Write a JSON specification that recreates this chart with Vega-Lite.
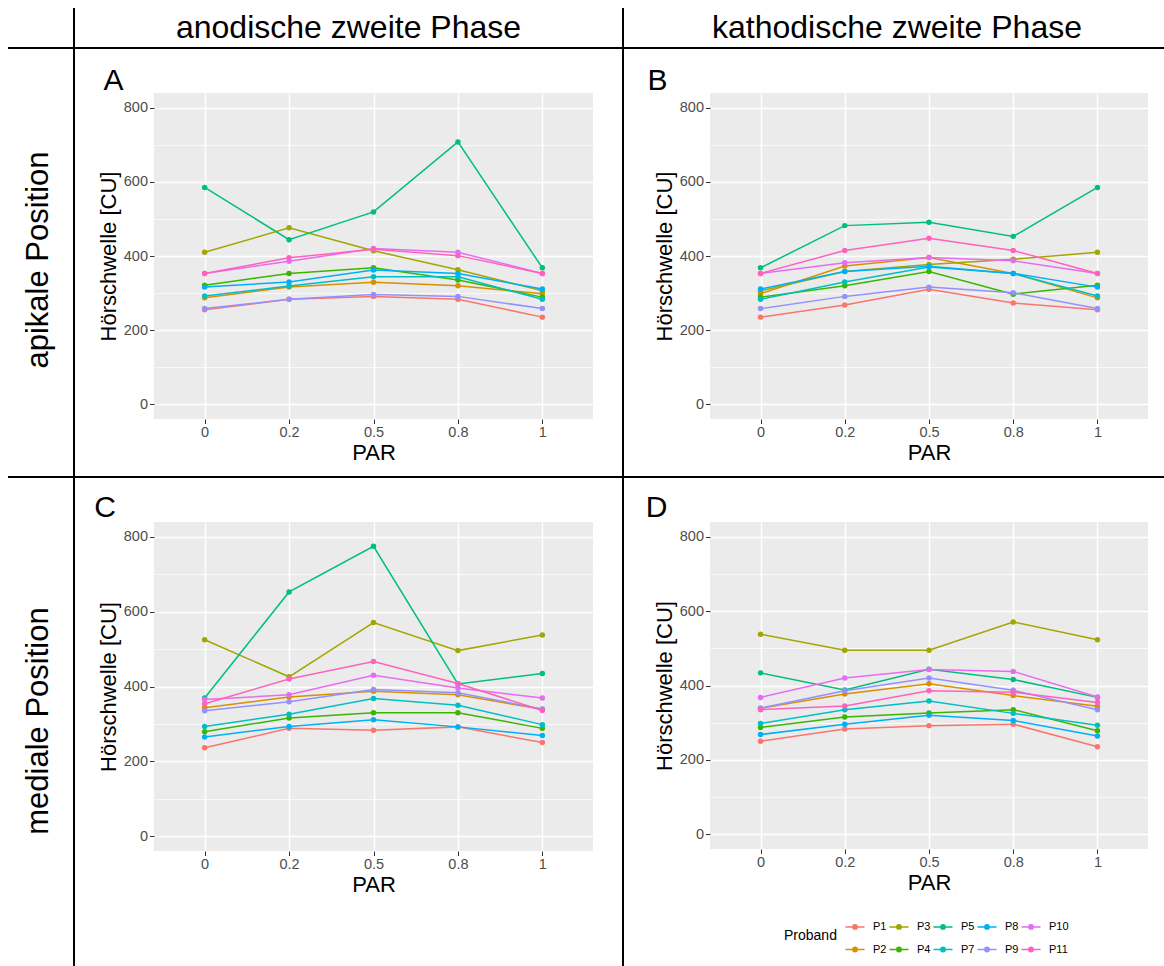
{
"$schema": "https://vega.github.io/schema/vega-lite/v6.json",
"padding": {"left": 8, "top": 8, "right": 0, "bottom": 0},
"autosize": {"type": "pad"},
"config": {
  "font": "Liberation Sans",
  "view": {"stroke": null},
  "axis": {"domain": false, "gridColor": "#FFFFFF", "gridWidth": 1.4, "tickColor": "#333333", "tickSize": 4.5, "tickWidth": 1, "labelColor": "#4D4D4D", "labelFontSize": 14.5, "labelPadding": 2, "titleFontSize": 22, "titleFontWeight": "normal", "titleColor": "#000000", "titlePadding": 3, "labelFont": "Liberation Sans", "titleFont": "Liberation Sans"}
},
"datasets": {"thr": [
{"panel":"A","Proband":"P1","PAR":"0","value":255},{"panel":"A","Proband":"P1","PAR":"0.2","value":283},{"panel":"A","Proband":"P1","PAR":"0.5","value":291},{"panel":"A","Proband":"P1","PAR":"0.8","value":283},{"panel":"A","Proband":"P1","PAR":"1","value":235},
{"panel":"A","Proband":"P2","PAR":"0","value":287},{"panel":"A","Proband":"P2","PAR":"0.2","value":316},{"panel":"A","Proband":"P2","PAR":"0.5","value":329},{"panel":"A","Proband":"P2","PAR":"0.8","value":320},{"panel":"A","Proband":"P2","PAR":"1","value":298},
{"panel":"A","Proband":"P3","PAR":"0","value":410},{"panel":"A","Proband":"P3","PAR":"0.2","value":476},{"panel":"A","Proband":"P3","PAR":"0.5","value":414},{"panel":"A","Proband":"P3","PAR":"0.8","value":363},{"panel":"A","Proband":"P3","PAR":"1","value":306},
{"panel":"A","Proband":"P4","PAR":"0","value":321},{"panel":"A","Proband":"P4","PAR":"0.2","value":353},{"panel":"A","Proband":"P4","PAR":"0.5","value":368},{"panel":"A","Proband":"P4","PAR":"0.8","value":335},{"panel":"A","Proband":"P4","PAR":"1","value":289},
{"panel":"A","Proband":"P5","PAR":"0","value":585},{"panel":"A","Proband":"P5","PAR":"0.2","value":444},{"panel":"A","Proband":"P5","PAR":"0.5","value":519},{"panel":"A","Proband":"P5","PAR":"0.8","value":708},{"panel":"A","Proband":"P5","PAR":"1","value":368},
{"panel":"A","Proband":"P7","PAR":"0","value":292},{"panel":"A","Proband":"P7","PAR":"0.2","value":319},{"panel":"A","Proband":"P7","PAR":"0.5","value":344},{"panel":"A","Proband":"P7","PAR":"0.8","value":344},{"panel":"A","Proband":"P7","PAR":"1","value":283},
{"panel":"A","Proband":"P8","PAR":"0","value":316},{"panel":"A","Proband":"P8","PAR":"0.2","value":330},{"panel":"A","Proband":"P8","PAR":"0.5","value":362},{"panel":"A","Proband":"P8","PAR":"0.8","value":353},{"panel":"A","Proband":"P8","PAR":"1","value":311},
{"panel":"A","Proband":"P9","PAR":"0","value":258},{"panel":"A","Proband":"P9","PAR":"0.2","value":283},{"panel":"A","Proband":"P9","PAR":"0.5","value":296},{"panel":"A","Proband":"P9","PAR":"0.8","value":291},{"panel":"A","Proband":"P9","PAR":"1","value":258},
{"panel":"A","Proband":"P10","PAR":"0","value":353},{"panel":"A","Proband":"P10","PAR":"0.2","value":386},{"panel":"A","Proband":"P10","PAR":"0.5","value":420},{"panel":"A","Proband":"P10","PAR":"0.8","value":410},{"panel":"A","Proband":"P10","PAR":"1","value":353},
{"panel":"A","Proband":"P11","PAR":"0","value":353},{"panel":"A","Proband":"P11","PAR":"0.2","value":395},{"panel":"A","Proband":"P11","PAR":"0.5","value":418},{"panel":"A","Proband":"P11","PAR":"0.8","value":401},{"panel":"A","Proband":"P11","PAR":"1","value":353},
{"panel":"B","Proband":"P1","PAR":"0","value":235},{"panel":"B","Proband":"P1","PAR":"0.2","value":268},{"panel":"B","Proband":"P1","PAR":"0.5","value":310},{"panel":"B","Proband":"P1","PAR":"0.8","value":273},{"panel":"B","Proband":"P1","PAR":"1","value":255},
{"panel":"B","Proband":"P2","PAR":"0","value":298},{"panel":"B","Proband":"P2","PAR":"0.2","value":373},{"panel":"B","Proband":"P2","PAR":"0.5","value":396},{"panel":"B","Proband":"P2","PAR":"0.8","value":353},{"panel":"B","Proband":"P2","PAR":"1","value":287},
{"panel":"B","Proband":"P3","PAR":"0","value":306},{"panel":"B","Proband":"P3","PAR":"0.2","value":358},{"panel":"B","Proband":"P3","PAR":"0.5","value":377},{"panel":"B","Proband":"P3","PAR":"0.8","value":391},{"panel":"B","Proband":"P3","PAR":"1","value":410},
{"panel":"B","Proband":"P4","PAR":"0","value":289},{"panel":"B","Proband":"P4","PAR":"0.2","value":320},{"panel":"B","Proband":"P4","PAR":"0.5","value":358},{"panel":"B","Proband":"P4","PAR":"0.8","value":297},{"panel":"B","Proband":"P4","PAR":"1","value":321},
{"panel":"B","Proband":"P5","PAR":"0","value":368},{"panel":"B","Proband":"P5","PAR":"0.2","value":482},{"panel":"B","Proband":"P5","PAR":"0.5","value":491},{"panel":"B","Proband":"P5","PAR":"0.8","value":453},{"panel":"B","Proband":"P5","PAR":"1","value":585},
{"panel":"B","Proband":"P7","PAR":"0","value":283},{"panel":"B","Proband":"P7","PAR":"0.2","value":330},{"panel":"B","Proband":"P7","PAR":"0.5","value":370},{"panel":"B","Proband":"P7","PAR":"0.8","value":353},{"panel":"B","Proband":"P7","PAR":"1","value":292},
{"panel":"B","Proband":"P8","PAR":"0","value":311},{"panel":"B","Proband":"P8","PAR":"0.2","value":358},{"panel":"B","Proband":"P8","PAR":"0.5","value":372},{"panel":"B","Proband":"P8","PAR":"0.8","value":353},{"panel":"B","Proband":"P8","PAR":"1","value":316},
{"panel":"B","Proband":"P9","PAR":"0","value":258},{"panel":"B","Proband":"P9","PAR":"0.2","value":291},{"panel":"B","Proband":"P9","PAR":"0.5","value":316},{"panel":"B","Proband":"P9","PAR":"0.8","value":301},{"panel":"B","Proband":"P9","PAR":"1","value":258},
{"panel":"B","Proband":"P10","PAR":"0","value":353},{"panel":"B","Proband":"P10","PAR":"0.2","value":382},{"panel":"B","Proband":"P10","PAR":"0.5","value":396},{"panel":"B","Proband":"P10","PAR":"0.8","value":387},{"panel":"B","Proband":"P10","PAR":"1","value":353},
{"panel":"B","Proband":"P11","PAR":"0","value":353},{"panel":"B","Proband":"P11","PAR":"0.2","value":415},{"panel":"B","Proband":"P11","PAR":"0.5","value":448},{"panel":"B","Proband":"P11","PAR":"0.8","value":415},{"panel":"B","Proband":"P11","PAR":"1","value":353},
{"panel":"C","Proband":"P1","PAR":"0","value":236},{"panel":"C","Proband":"P1","PAR":"0.2","value":288},{"panel":"C","Proband":"P1","PAR":"0.5","value":283},{"panel":"C","Proband":"P1","PAR":"0.8","value":292},{"panel":"C","Proband":"P1","PAR":"1","value":250},
{"panel":"C","Proband":"P2","PAR":"0","value":343},{"panel":"C","Proband":"P2","PAR":"0.2","value":372},{"panel":"C","Proband":"P2","PAR":"0.5","value":387},{"panel":"C","Proband":"P2","PAR":"0.8","value":378},{"panel":"C","Proband":"P2","PAR":"1","value":339},
{"panel":"C","Proband":"P3","PAR":"0","value":525},{"panel":"C","Proband":"P3","PAR":"0.2","value":426},{"panel":"C","Proband":"P3","PAR":"0.5","value":571},{"panel":"C","Proband":"P3","PAR":"0.8","value":496},{"panel":"C","Proband":"P3","PAR":"1","value":538},
{"panel":"C","Proband":"P4","PAR":"0","value":279},{"panel":"C","Proband":"P4","PAR":"0.2","value":316},{"panel":"C","Proband":"P4","PAR":"0.5","value":330},{"panel":"C","Proband":"P4","PAR":"0.8","value":330},{"panel":"C","Proband":"P4","PAR":"1","value":288},
{"panel":"C","Proband":"P5","PAR":"0","value":369},{"panel":"C","Proband":"P5","PAR":"0.2","value":653},{"panel":"C","Proband":"P5","PAR":"0.5","value":775},{"panel":"C","Proband":"P5","PAR":"0.8","value":407},{"panel":"C","Proband":"P5","PAR":"1","value":435},
{"panel":"C","Proband":"P7","PAR":"0","value":293},{"panel":"C","Proband":"P7","PAR":"0.2","value":326},{"panel":"C","Proband":"P7","PAR":"0.5","value":368},{"panel":"C","Proband":"P7","PAR":"0.8","value":350},{"panel":"C","Proband":"P7","PAR":"1","value":298},
{"panel":"C","Proband":"P8","PAR":"0","value":265},{"panel":"C","Proband":"P8","PAR":"0.2","value":293},{"panel":"C","Proband":"P8","PAR":"0.5","value":311},{"panel":"C","Proband":"P8","PAR":"0.8","value":292},{"panel":"C","Proband":"P8","PAR":"1","value":269},
{"panel":"C","Proband":"P9","PAR":"0","value":335},{"panel":"C","Proband":"P9","PAR":"0.2","value":359},{"panel":"C","Proband":"P9","PAR":"0.5","value":392},{"panel":"C","Proband":"P9","PAR":"0.8","value":383},{"panel":"C","Proband":"P9","PAR":"1","value":340},
{"panel":"C","Proband":"P10","PAR":"0","value":365},{"panel":"C","Proband":"P10","PAR":"0.2","value":378},{"panel":"C","Proband":"P10","PAR":"0.5","value":430},{"panel":"C","Proband":"P10","PAR":"0.8","value":396},{"panel":"C","Proband":"P10","PAR":"1","value":369},
{"panel":"C","Proband":"P11","PAR":"0","value":354},{"panel":"C","Proband":"P11","PAR":"0.2","value":420},{"panel":"C","Proband":"P11","PAR":"0.5","value":467},{"panel":"C","Proband":"P11","PAR":"0.8","value":408},{"panel":"C","Proband":"P11","PAR":"1","value":336},
{"panel":"D","Proband":"P1","PAR":"0","value":250},{"panel":"D","Proband":"P1","PAR":"0.2","value":283},{"panel":"D","Proband":"P1","PAR":"0.5","value":292},{"panel":"D","Proband":"P1","PAR":"0.8","value":296},{"panel":"D","Proband":"P1","PAR":"1","value":235},
{"panel":"D","Proband":"P2","PAR":"0","value":339},{"panel":"D","Proband":"P2","PAR":"0.2","value":377},{"panel":"D","Proband":"P2","PAR":"0.5","value":405},{"panel":"D","Proband":"P2","PAR":"0.8","value":373},{"panel":"D","Proband":"P2","PAR":"1","value":344},
{"panel":"D","Proband":"P3","PAR":"0","value":538},{"panel":"D","Proband":"P3","PAR":"0.2","value":495},{"panel":"D","Proband":"P3","PAR":"0.5","value":495},{"panel":"D","Proband":"P3","PAR":"0.8","value":571},{"panel":"D","Proband":"P3","PAR":"1","value":523},
{"panel":"D","Proband":"P4","PAR":"0","value":287},{"panel":"D","Proband":"P4","PAR":"0.2","value":315},{"panel":"D","Proband":"P4","PAR":"0.5","value":326},{"panel":"D","Proband":"P4","PAR":"0.8","value":335},{"panel":"D","Proband":"P4","PAR":"1","value":278},
{"panel":"D","Proband":"P5","PAR":"0","value":434},{"panel":"D","Proband":"P5","PAR":"0.2","value":388},{"panel":"D","Proband":"P5","PAR":"0.5","value":444},{"panel":"D","Proband":"P5","PAR":"0.8","value":416},{"panel":"D","Proband":"P5","PAR":"1","value":368},
{"panel":"D","Proband":"P7","PAR":"0","value":298},{"panel":"D","Proband":"P7","PAR":"0.2","value":335},{"panel":"D","Proband":"P7","PAR":"0.5","value":358},{"panel":"D","Proband":"P7","PAR":"0.8","value":325},{"panel":"D","Proband":"P7","PAR":"1","value":293},
{"panel":"D","Proband":"P8","PAR":"0","value":268},{"panel":"D","Proband":"P8","PAR":"0.2","value":296},{"panel":"D","Proband":"P8","PAR":"0.5","value":320},{"panel":"D","Proband":"P8","PAR":"0.8","value":306},{"panel":"D","Proband":"P8","PAR":"1","value":264},
{"panel":"D","Proband":"P9","PAR":"0","value":339},{"panel":"D","Proband":"P9","PAR":"0.2","value":386},{"panel":"D","Proband":"P9","PAR":"0.5","value":420},{"panel":"D","Proband":"P9","PAR":"0.8","value":387},{"panel":"D","Proband":"P9","PAR":"1","value":335},
{"panel":"D","Proband":"P10","PAR":"0","value":368},{"panel":"D","Proband":"P10","PAR":"0.2","value":420},{"panel":"D","Proband":"P10","PAR":"0.5","value":443},{"panel":"D","Proband":"P10","PAR":"0.8","value":438},{"panel":"D","Proband":"P10","PAR":"1","value":369},
{"panel":"D","Proband":"P11","PAR":"0","value":335},{"panel":"D","Proband":"P11","PAR":"0.2","value":345},{"panel":"D","Proband":"P11","PAR":"0.5","value":386},{"panel":"D","Proband":"P11","PAR":"0.8","value":382},{"panel":"D","Proband":"P11","PAR":"1","value":354}
]},
"columns": 9,
"spacing": 0,
"bounds": "flush",
"align": "each",
"concat": [
{"width": 65, "height": 39, "data": {"values": []}, "mark": "point"},
{"width": 2, "height": 39, "data": {"values": []}, "mark": "point", "view": {"fill": "#000000"}},
{"width": 79, "height": 39, "data": {"values": []}, "mark": "point"},
{"width": 439, "height": 39, "data": {"values": [{"t": "anodische zweite Phase"}]}, "mark": {"type": "text", "fontSize": 32, "dx": -25, "color": "#000000"}, "encoding": {"text": {"field": "t", "type": "nominal"}}},
{"width": 29, "height": 39, "data": {"values": []}, "mark": "point"},
{"width": 2, "height": 39, "data": {"values": []}, "mark": "point", "view": {"fill": "#000000"}},
{"width": 86, "height": 39, "data": {"values": []}, "mark": "point"},
{"width": 438, "height": 39, "data": {"values": [{"t": "kathodische zweite Phase"}]}, "mark": {"type": "text", "fontSize": 32, "dx": -32, "color": "#000000"}, "encoding": {"text": {"field": "t", "type": "nominal"}}},
{"width": 16, "height": 39, "data": {"values": []}, "mark": "point"},

{"width": 65, "height": 2, "data": {"values": []}, "mark": "point", "view": {"fill": "#000000"}},
{"width": 2, "height": 2, "data": {"values": []}, "mark": "point", "view": {"fill": "#000000"}},
{"width": 79, "height": 2, "data": {"values": []}, "mark": "point", "view": {"fill": "#000000"}},
{"width": 439, "height": 2, "data": {"values": []}, "mark": "point", "view": {"fill": "#000000"}},
{"width": 29, "height": 2, "data": {"values": []}, "mark": "point", "view": {"fill": "#000000"}},
{"width": 2, "height": 2, "data": {"values": []}, "mark": "point", "view": {"fill": "#000000"}},
{"width": 86, "height": 2, "data": {"values": []}, "mark": "point", "view": {"fill": "#000000"}},
{"width": 438, "height": 2, "data": {"values": []}, "mark": "point", "view": {"fill": "#000000"}},
{"width": 16, "height": 2, "data": {"values": []}, "mark": "point", "view": {"fill": "#000000"}},

{"width": 65, "height": 44, "data": {"values": []}, "mark": "point"},
{"width": 2, "height": 44, "data": {"values": []}, "mark": "point", "view": {"fill": "#000000"}},
{"width": 79, "height": 44, "data": {"values": [{"t": "A"}]}, "mark": {"type": "text", "fontSize": 30, "baseline": "alphabetic", "dx": -1, "dy": 19, "color": "#000000"}, "encoding": {"text": {"field": "t", "type": "nominal"}}},
{"width": 439, "height": 44, "data": {"values": []}, "mark": "point"},
{"width": 29, "height": 44, "data": {"values": []}, "mark": "point"},
{"width": 2, "height": 44, "data": {"values": []}, "mark": "point", "view": {"fill": "#000000"}},
{"width": 86, "height": 44, "data": {"values": [{"t": "B"}]}, "mark": {"type": "text", "fontSize": 30, "baseline": "alphabetic", "dx": -9.5, "dy": 19, "color": "#000000"}, "encoding": {"text": {"field": "t", "type": "nominal"}}},
{"width": 438, "height": 44, "data": {"values": []}, "mark": "point"},
{"width": 16, "height": 44, "data": {"values": []}, "mark": "point"},

{"width": 65, "height": 326, "data": {"values": [{"t": "apikale Position"}]}, "mark": {"type": "text", "fontSize": 31, "angle": 270, "dx": -4, "dy": -2, "color": "#000000"}, "encoding": {"text": {"field": "t", "type": "nominal"}}},
{"width": 2, "height": 326, "data": {"values": []}, "mark": "point", "view": {"fill": "#000000"}},
{"width": 79, "height": 326, "data": {"values": []}, "mark": "point"},
{"width": 439, "height": 326, "data": {"name": "thr"}, "transform": [{"filter": "datum.panel === 'A'"}],
 "view": {"fill": "#EBEBEB", "stroke": null},
 "encoding": {
  "x": {"field": "PAR", "type": "ordinal", "sort": ["0","0.2","0.5","0.8","1"], "scale": {"type": "point", "padding": 0.6}, "axis": {"title": "PAR", "labelAngle": 0, "grid": true}},
  "color": {"field": "Proband", "type": "nominal", "scale": {"domain": ["P1","P3","P5","P8","P10","P2","P4","P7","P9","P11"], "range": ["#F8766D","#A3A500","#00BF7D","#00B0F6","#E76BF3","#D89000","#39B600","#00BFC4","#9590FF","#FF62BC"]},
   "legend": {"title": "Proband", "orient": "none", "legendX": 776, "legendY": 907.5, "direction": "horizontal", "columns": 5, "titleOrient": "left", "titleAnchor": "middle", "titleBaseline": "middle", "titleFontSize": 14, "titleFontWeight": "normal", "titleColor": "#000000", "titlePadding": 7, "labelFontSize": 11, "labelColor": "#000000", "labelOffset": 7, "columnPadding": -1, "rowPadding": 6, "symbolType": "M-0.95,0H0.95M-0.22,0A0.22,0.22 0 1,1 0.22,0A0.22,0.22 0 1,1 -0.22,0Z", "symbolSize": 400, "symbolStrokeWidth": 1.5, "padding": 0}}
 },
 "layer": [
  {"mark": {"type": "point", "opacity": 0}, "encoding": {"y": {"field": "value", "type": "quantitative", "scale": {"domain": [-40, 840], "nice": false, "zero": false}, "axis": {"orient": "right", "values": [100,300,500,700], "grid": true, "gridWidth": 0.7, "labels": false, "ticks": false, "domain": false, "title": null}}}},
  {"mark": {"type": "line", "strokeWidth": 1.5}, "encoding": {"y": {"field": "value", "type": "quantitative", "axis": {"orient": "left", "values": [0,200,400,600,800], "title": "Hörschwelle [CU]", "grid": true}}}},
  {"mark": {"type": "point", "filled": true, "size": 30, "opacity": 1}, "encoding": {"y": {"field": "value", "type": "quantitative", "axis": null}}}
 ],
 "resolve": {"axis": {"y": "independent"}}
},
{"width": 29, "height": 326, "data": {"values": []}, "mark": "point"},
{"width": 2, "height": 326, "data": {"values": []}, "mark": "point", "view": {"fill": "#000000"}},
{"width": 86, "height": 326, "data": {"values": []}, "mark": "point"},
{"width": 438, "height": 326, "data": {"name": "thr"}, "transform": [{"filter": "datum.panel === 'B'"}],
 "view": {"fill": "#EBEBEB", "stroke": null},
 "encoding": {
  "x": {"field": "PAR", "type": "ordinal", "sort": ["0","0.2","0.5","0.8","1"], "scale": {"type": "point", "padding": 0.6}, "axis": {"title": "PAR", "labelAngle": 0, "grid": true}},
  "color": {"field": "Proband", "type": "nominal", "scale": {"domain": ["P1","P3","P5","P8","P10","P2","P4","P7","P9","P11"], "range": ["#F8766D","#A3A500","#00BF7D","#00B0F6","#E76BF3","#D89000","#39B600","#00BFC4","#9590FF","#FF62BC"]},
   "legend": {"title": "Proband", "orient": "none", "legendX": 776, "legendY": 907.5, "direction": "horizontal", "columns": 5, "titleOrient": "left", "titleAnchor": "middle", "titleBaseline": "middle", "titleFontSize": 14, "titleFontWeight": "normal", "titleColor": "#000000", "titlePadding": 7, "labelFontSize": 11, "labelColor": "#000000", "labelOffset": 7, "columnPadding": -1, "rowPadding": 6, "symbolType": "M-0.95,0H0.95M-0.22,0A0.22,0.22 0 1,1 0.22,0A0.22,0.22 0 1,1 -0.22,0Z", "symbolSize": 400, "symbolStrokeWidth": 1.5, "padding": 0}}
 },
 "layer": [
  {"mark": {"type": "point", "opacity": 0}, "encoding": {"y": {"field": "value", "type": "quantitative", "scale": {"domain": [-40, 840], "nice": false, "zero": false}, "axis": {"orient": "right", "values": [100,300,500,700], "grid": true, "gridWidth": 0.7, "labels": false, "ticks": false, "domain": false, "title": null}}}},
  {"mark": {"type": "line", "strokeWidth": 1.5}, "encoding": {"y": {"field": "value", "type": "quantitative", "axis": {"orient": "left", "values": [0,200,400,600,800], "title": "Hörschwelle [CU]", "grid": true}}}},
  {"mark": {"type": "point", "filled": true, "size": 30, "opacity": 1}, "encoding": {"y": {"field": "value", "type": "quantitative", "axis": null}}}
 ],
 "resolve": {"axis": {"y": "independent"}}
},
{"width": 16, "height": 326, "data": {"values": []}, "mark": "point"},

{"width": 65, "height": 57, "data": {"values": []}, "mark": "point"},
{"width": 2, "height": 57, "data": {"values": []}, "mark": "point", "view": {"fill": "#000000"}},
{"width": 79, "height": 57, "data": {"values": []}, "mark": "point"},
{"width": 439, "height": 57, "data": {"values": []}, "mark": "point"},
{"width": 29, "height": 57, "data": {"values": []}, "mark": "point"},
{"width": 2, "height": 57, "data": {"values": []}, "mark": "point", "view": {"fill": "#000000"}},
{"width": 86, "height": 57, "data": {"values": []}, "mark": "point"},
{"width": 438, "height": 57, "data": {"values": []}, "mark": "point"},
{"width": 16, "height": 57, "data": {"values": []}, "mark": "point"},

{"width": 65, "height": 2, "data": {"values": []}, "mark": "point", "view": {"fill": "#000000"}},
{"width": 2, "height": 2, "data": {"values": []}, "mark": "point", "view": {"fill": "#000000"}},
{"width": 79, "height": 2, "data": {"values": []}, "mark": "point", "view": {"fill": "#000000"}},
{"width": 439, "height": 2, "data": {"values": []}, "mark": "point", "view": {"fill": "#000000"}},
{"width": 29, "height": 2, "data": {"values": []}, "mark": "point", "view": {"fill": "#000000"}},
{"width": 2, "height": 2, "data": {"values": []}, "mark": "point", "view": {"fill": "#000000"}},
{"width": 86, "height": 2, "data": {"values": []}, "mark": "point", "view": {"fill": "#000000"}},
{"width": 438, "height": 2, "data": {"values": []}, "mark": "point", "view": {"fill": "#000000"}},
{"width": 16, "height": 2, "data": {"values": []}, "mark": "point", "view": {"fill": "#000000"}},

{"width": 65, "height": 44, "data": {"values": []}, "mark": "point"},
{"width": 2, "height": 44, "data": {"values": []}, "mark": "point", "view": {"fill": "#000000"}},
{"width": 79, "height": 44, "data": {"values": [{"t": "C"}]}, "mark": {"type": "text", "fontSize": 30, "baseline": "alphabetic", "dx": -9.5, "dy": 16.7, "color": "#000000"}, "encoding": {"text": {"field": "t", "type": "nominal"}}},
{"width": 439, "height": 44, "data": {"values": []}, "mark": "point"},
{"width": 29, "height": 44, "data": {"values": []}, "mark": "point"},
{"width": 2, "height": 44, "data": {"values": []}, "mark": "point", "view": {"fill": "#000000"}},
{"width": 86, "height": 44, "data": {"values": [{"t": "D"}]}, "mark": {"type": "text", "fontSize": 30, "baseline": "alphabetic", "dx": -10.5, "dy": 16.7, "color": "#000000"}, "encoding": {"text": {"field": "t", "type": "nominal"}}},
{"width": 438, "height": 44, "data": {"values": []}, "mark": "point"},
{"width": 16, "height": 44, "data": {"values": []}, "mark": "point"},

{"width": 65, "height": 329, "data": {"values": [{"t": "mediale Position"}]}, "mark": {"type": "text", "fontSize": 31, "angle": 270, "dx": -34.5, "dy": -2, "color": "#000000"}, "encoding": {"text": {"field": "t", "type": "nominal"}}},
{"width": 2, "height": 329, "data": {"values": []}, "mark": "point", "view": {"fill": "#000000"}},
{"width": 79, "height": 329, "data": {"values": []}, "mark": "point"},
{"width": 439, "height": 329, "data": {"name": "thr"}, "transform": [{"filter": "datum.panel === 'C'"}],
 "view": {"fill": "#EBEBEB", "stroke": null},
 "encoding": {
  "x": {"field": "PAR", "type": "ordinal", "sort": ["0","0.2","0.5","0.8","1"], "scale": {"type": "point", "padding": 0.6}, "axis": {"title": "PAR", "labelAngle": 0, "grid": true}},
  "color": {"field": "Proband", "type": "nominal", "scale": {"domain": ["P1","P3","P5","P8","P10","P2","P4","P7","P9","P11"], "range": ["#F8766D","#A3A500","#00BF7D","#00B0F6","#E76BF3","#D89000","#39B600","#00BFC4","#9590FF","#FF62BC"]},
   "legend": {"title": "Proband", "orient": "none", "legendX": 776, "legendY": 907.5, "direction": "horizontal", "columns": 5, "titleOrient": "left", "titleAnchor": "middle", "titleBaseline": "middle", "titleFontSize": 14, "titleFontWeight": "normal", "titleColor": "#000000", "titlePadding": 7, "labelFontSize": 11, "labelColor": "#000000", "labelOffset": 7, "columnPadding": -1, "rowPadding": 6, "symbolType": "M-0.95,0H0.95M-0.22,0A0.22,0.22 0 1,1 0.22,0A0.22,0.22 0 1,1 -0.22,0Z", "symbolSize": 400, "symbolStrokeWidth": 1.5, "padding": 0}}
 },
 "layer": [
  {"mark": {"type": "point", "opacity": 0}, "encoding": {"y": {"field": "value", "type": "quantitative", "scale": {"domain": [-40, 840], "nice": false, "zero": false}, "axis": {"orient": "right", "values": [100,300,500,700], "grid": true, "gridWidth": 0.7, "labels": false, "ticks": false, "domain": false, "title": null}}}},
  {"mark": {"type": "line", "strokeWidth": 1.5}, "encoding": {"y": {"field": "value", "type": "quantitative", "axis": {"orient": "left", "values": [0,200,400,600,800], "title": "Hörschwelle [CU]", "grid": true}}}},
  {"mark": {"type": "point", "filled": true, "size": 30, "opacity": 1}, "encoding": {"y": {"field": "value", "type": "quantitative", "axis": null}}}
 ],
 "resolve": {"axis": {"y": "independent"}}
},
{"width": 29, "height": 329, "data": {"values": []}, "mark": "point"},
{"width": 2, "height": 329, "data": {"values": []}, "mark": "point", "view": {"fill": "#000000"}},
{"width": 86, "height": 329, "data": {"values": []}, "mark": "point"},
{"width": 438, "height": 327, "data": {"name": "thr"}, "transform": [{"filter": "datum.panel === 'D'"}],
 "view": {"fill": "#EBEBEB", "stroke": null},
 "encoding": {
  "x": {"field": "PAR", "type": "ordinal", "sort": ["0","0.2","0.5","0.8","1"], "scale": {"type": "point", "padding": 0.6}, "axis": {"title": "PAR", "labelAngle": 0, "grid": true}},
  "color": {"field": "Proband", "type": "nominal", "scale": {"domain": ["P1","P3","P5","P8","P10","P2","P4","P7","P9","P11"], "range": ["#F8766D","#A3A500","#00BF7D","#00B0F6","#E76BF3","#D89000","#39B600","#00BFC4","#9590FF","#FF62BC"]},
   "legend": {"title": "Proband", "orient": "none", "legendX": 776, "legendY": 907.5, "direction": "horizontal", "columns": 5, "titleOrient": "left", "titleAnchor": "middle", "titleBaseline": "middle", "titleFontSize": 14, "titleFontWeight": "normal", "titleColor": "#000000", "titlePadding": 7, "labelFontSize": 11, "labelColor": "#000000", "labelOffset": 7, "columnPadding": -1, "rowPadding": 6, "symbolType": "M-0.95,0H0.95M-0.22,0A0.22,0.22 0 1,1 0.22,0A0.22,0.22 0 1,1 -0.22,0Z", "symbolSize": 400, "symbolStrokeWidth": 1.5, "padding": 0}}
 },
 "layer": [
  {"mark": {"type": "point", "opacity": 0}, "encoding": {"y": {"field": "value", "type": "quantitative", "scale": {"domain": [-40, 840], "nice": false, "zero": false}, "axis": {"orient": "right", "values": [100,300,500,700], "grid": true, "gridWidth": 0.7, "labels": false, "ticks": false, "domain": false, "title": null}}}},
  {"mark": {"type": "line", "strokeWidth": 1.5}, "encoding": {"y": {"field": "value", "type": "quantitative", "axis": {"orient": "left", "values": [0,200,400,600,800], "title": "Hörschwelle [CU]", "grid": true}}}},
  {"mark": {"type": "point", "filled": true, "size": 30, "opacity": 1}, "encoding": {"y": {"field": "value", "type": "quantitative", "axis": null}}}
 ],
 "resolve": {"axis": {"y": "independent"}}
},
{"width": 16, "height": 329, "data": {"values": []}, "mark": "point"},

{"width": 65, "height": 115, "data": {"values": []}, "mark": "point"},
{"width": 2, "height": 115, "data": {"values": []}, "mark": "point", "view": {"fill": "#000000"}},
{"width": 79, "height": 115, "data": {"values": []}, "mark": "point"},
{"width": 439, "height": 115, "data": {"values": []}, "mark": "point"},
{"width": 29, "height": 115, "data": {"values": []}, "mark": "point"},
{"width": 2, "height": 115, "data": {"values": []}, "mark": "point", "view": {"fill": "#000000"}},
{"width": 86, "height": 115, "data": {"values": []}, "mark": "point"},
{"width": 438, "height": 115, "data": {"values": []}, "mark": "point"},
{"width": 16, "height": 115, "data": {"values": []}, "mark": "point"}
]
}
